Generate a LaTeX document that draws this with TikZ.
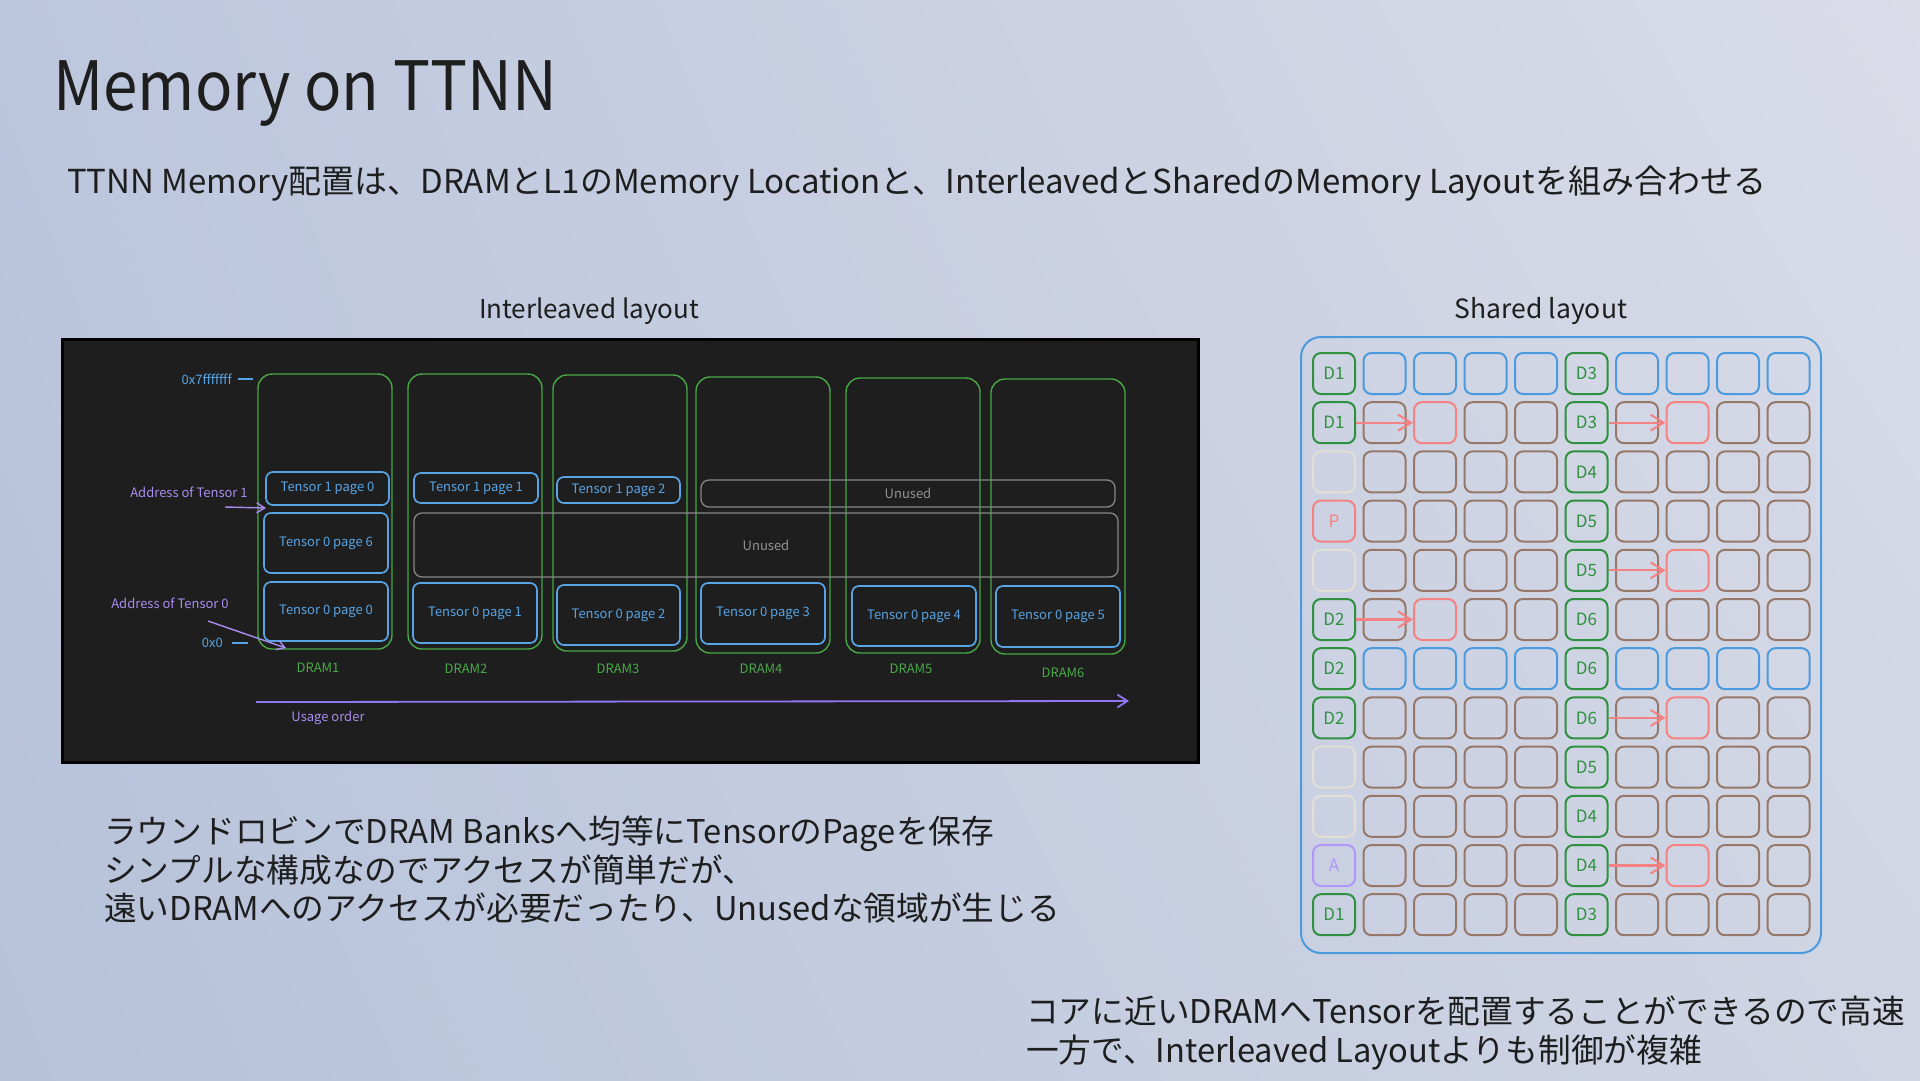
\documentclass[tikz,border=0pt]{standalone}
\usepackage{fontspec}
\setmainfont{Noto Sans CJK JP}
\newfontfamily\titlefont[FakeStretch=0.91]{Noto Sans CJK JP}
\usetikzlibrary{arrows.meta,shadings}
\definecolor{bgTL}{RGB}{188,198,221}
\definecolor{bgTR}{RGB}{218,220,232}
\definecolor{bgBL}{RGB}{182,194,218}
\definecolor{bgBR}{RGB}{208,213,228}
\definecolor{ink}{RGB}{30,30,30}
\definecolor{panel}{RGB}{30,30,30}
\definecolor{dgreen}{RGB}{72,168,72}
\definecolor{dblue}{RGB}{88,164,228}
\definecolor{dgray}{RGB}{135,135,135}
\definecolor{dpurple}{RGB}{170,140,240}
\definecolor{cg}{RGB}{47,145,64}
\definecolor{cblue}{RGB}{76,154,222}
\definecolor{cbrown}{RGB}{150,120,105}
\definecolor{cr}{RGB}{245,130,130}
\definecolor{cf}{RGB}{226,223,212}
\definecolor{cp}{RGB}{178,150,250}
\begin{document}
\begin{tikzpicture}[x=1pt,y=-1pt,
  dram/.style={draw=dgreen, line width=1.4pt, rounded corners=14pt, inner sep=0pt},
  tens/.style={draw=dblue, line width=1.7pt, rounded corners=7pt, text=dblue, inner sep=0pt, font=\fontsize{13}{15}\selectfont},
  unusedbox/.style={draw=dgray, line width=1.3pt, rounded corners=8pt, text=dgray!90!white, inner sep=0pt, font=\fontsize{13}{15}\selectfont},
  ptext/.style={inner sep=0pt, font=\fontsize{13}{15}\selectfont},
  cell/.style={line width=2pt, rounded corners=8pt, minimum width=42pt, minimum height=41pt, inner sep=0pt, font=\fontsize{17}{19}\selectfont},
  redarr/.style={draw=cr, line width=2.2pt, -{Straight Barb[length=13pt,width=16pt,line width=2pt]}},
  sketcharr/.style={draw=dpurple, line width=1.4pt, -{Straight Barb[length=8pt,width=10pt]}},
  bodytext/.style={anchor=base west, inner sep=0pt, text=ink, font=\fontsize{32.7}{38}\selectfont}
]
\useasboundingbox (0,0) rectangle (1920,1080);
\shade[upper left=bgTL, upper right=bgTR, lower left=bgBL, lower right=bgBR] (0,0) rectangle (1920,1080);

% titles
\node[anchor=base west, inner sep=0pt, text=ink, font=\titlefont\fontsize{68}{80}\selectfont] (title) at (53,110) {Memory on TTNN};
\node[bodytext, font=\fontsize{33}{38}\selectfont] (sub) at (67,193) {TTNN Memory配置は、DRAMとL1のMemory Locationと、InterleavedとSharedのMemory Layoutを組み合わせる};
\node[inner sep=0pt, text=ink, font=\fontsize{26}{30}\selectfont] (ilt) at (589,311) {Interleaved layout};
\node[inner sep=0pt, text=ink, font=\fontsize{26.5}{30}\selectfont] (slt) at (1541,311) {Shared layout};

% dark panel
\node[draw=black, line width=3pt, fill=panel, minimum width=1136pt, minimum height=423pt, inner sep=0pt] (panel) at (630,550.5) {};

% DRAM boxes
\node[dram, minimum width=134pt, minimum height=275pt] (d1) at (325,511.5) {};
\node[dram, minimum width=134pt, minimum height=275pt] (d2) at (475,511.5) {};
\node[dram, minimum width=134pt, minimum height=276pt] (d3) at (620,513) {};
\node[dram, minimum width=134pt, minimum height=276pt] (d4) at (763,515) {};
\node[dram, minimum width=134pt, minimum height=275pt] (d5) at (913,515.5) {};
\node[dram, minimum width=134pt, minimum height=275pt] (d6) at (1058,516.5) {};

% unused
\node[unusedbox, minimum width=704pt, minimum height=64pt] (u1) at (766,545) {Unused};
\node[unusedbox, minimum width=414pt, minimum height=27pt] (u2) at (908,493.5) {Unused};

% tensor pages
\node[tens, minimum width=123pt, minimum height=33pt] (t10) at (327.5,488.5) {Tensor 1 page 0};
\node[tens, minimum width=124pt, minimum height=60pt] (t06) at (326,543) {Tensor 0 page 6};
\node[tens, minimum width=124pt, minimum height=59pt] (t00) at (326,611.5) {Tensor 0 page 0};
\node[tens, minimum width=124pt, minimum height=30pt] (t11) at (476,488) {Tensor 1 page 1};
\node[tens, minimum width=124pt, minimum height=60pt] (t01) at (475,613) {Tensor 0 page 1};
\node[tens, minimum width=123pt, minimum height=26pt] (t12) at (618.5,490) {Tensor 1 page 2};
\node[tens, minimum width=123pt, minimum height=60pt] (t02) at (618.5,615) {Tensor 0 page 2};
\node[tens, minimum width=124pt, minimum height=61pt] (t03) at (763,613.5) {Tensor 0 page 3};
\node[tens, minimum width=124pt, minimum height=60pt] (t04) at (914,616) {Tensor 0 page 4};
\node[tens, minimum width=124pt, minimum height=61pt] (t05) at (1058,616.5) {Tensor 0 page 5};

% DRAM labels
\node[ptext, text=dgreen] (l1) at (318,668) {DRAM1};
\node[ptext, text=dgreen] (l2) at (466,669) {DRAM2};
\node[ptext, text=dgreen] (l3) at (618,669) {DRAM3};
\node[ptext, text=dgreen] (l4) at (761,669) {DRAM4};
\node[ptext, text=dgreen] (l5) at (911,669) {DRAM5};
\node[ptext, text=dgreen] (l6) at (1063,673) {DRAM6};

% address labels
\node[ptext, text=dblue, anchor=east] (atop) at (232,379) {0x7fffffff};
\coordinate (atopE) at (253,379);
\draw[dblue, line width=1.4pt] ([xshift=6pt]atop.east) -- (atopE);
\node[ptext, text=dblue, anchor=east] (azero) at (223,643) {0x0};
\coordinate (azeroE) at (248,643);
\draw[dblue, line width=1.4pt] ([xshift=9pt]azero.east) -- (azeroE);

\node[ptext, text=dpurple] (adr1) at (189,492) {Address of Tensor 1};
\coordinate (adr1s) at (225,507);
\coordinate (adr1e) at (266,508);
\draw[sketcharr] (adr1s) -- (adr1e);
\node[ptext, text=dpurple] (adr0) at (170,603) {Address of Tensor 0};
\coordinate (adr0s) at (208,621);
\coordinate (adr0e) at (286,648);
\draw[sketcharr] (adr0s) -- (adr0e);

% usage order
\coordinate (us) at (256,702);
\coordinate (ue) at (1129,701);
\draw[draw=dpurple!85!blue, line width=1.8pt, -{Straight Barb[length=10pt,width=13pt]}] (us) -- (ue);
\node[ptext, text=dpurple] (uo) at (328,718) {Usage order};

% shared layout frame
\node[draw=cblue, line width=2pt, rounded corners=20pt, minimum width=520pt, minimum height=616pt, inner sep=0pt] (frame) at (1561,645) {};

% grid cells
\foreach \r in {0,...,11}{
  \foreach \c in {1,2,3,4,6,7,8,9}{
    \pgfmathtruncatemacro\isred{((\r==1)&&((\c==2)||(\c==7)))||((\r==4)&&(\c==7))||((\r==5)&&(\c==2))||((\r==7)&&(\c==7))||((\r==10)&&(\c==7))}
    \pgfmathtruncatemacro\isblue{(\r==0)||(\r==6)}
    \ifnum\isred=1 \def\cc{cr}\else\ifnum\isblue=1 \def\cc{cblue}\else\def\cc{cbrown}\fi\fi
    \node[cell, draw=\cc] (c\r-\c) at ({1334+50.5*\c},{373.5+49.2*\r}) {};
  }
}
\foreach \r/\t/\k in {0/D1/g,1/D1/g,2//f,3/P/r,4//f,5/D2/g,6/D2/g,7/D2/g,8//f,9//f,10/A/p,11/D1/g}{
  \node[cell, draw=c\k, text=c\k] (c\r-0) at (1334,{373.5+49.2*\r}) {\t};
}
\foreach \r/\t in {0/D3,1/D3,2/D4,3/D5,4/D5,5/D6,6/D6,7/D6,8/D5,9/D4,10/D4,11/D3}{
  \node[cell, draw=cg, text=cg] (c\r-5) at (1586.5,{373.5+49.2*\r}) {\t};
}
\foreach \r/\a/\b in {1/0/2,1/5/7,4/5/7,5/0/2,7/5/7,10/5/7}{
  \draw[redarr] (c\r-\a.east) -- (c\r-\b.west);
}

% bottom texts
\node[bodytext] (bl1) at (104,843) {ラウンドロビンでDRAM Banksへ均等にTensorのPageを保存};
\node[bodytext] (bl2) at (104,882) {シンプルな構成なのでアクセスが簡単だが、};
\node[bodytext] (bl3) at (104,920) {遠いDRAMへのアクセスが必要だったり、Unusedな領域が生じる};
\node[bodytext] (br1) at (1026,1023) {コアに近いDRAMへTensorを配置することができるので高速};
\node[bodytext] (br2) at (1026,1062) {一方で、Interleaved Layoutよりも制御が複雑};
\end{tikzpicture}
\end{document}
